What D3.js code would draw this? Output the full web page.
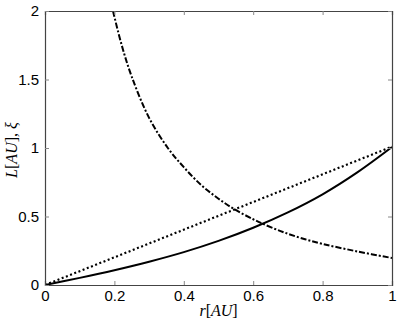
<!DOCTYPE html>
<html lang="en">
<head>
<meta charset="UTF-8">
<title>L and xi vs r</title>
<script src="https://cdn.jsdelivr.net/npm/d3@7"></script>
<style>
    body { margin: 0; background: #fff; }
    .tick text { font-family: "Liberation Sans", Arial, sans-serif; font-size: 15px; fill: #000; }
    .lbl { font-family: "Liberation Serif", "DejaVu Serif", serif; font-size: 16px; }
</style>
</head>
<body>
<svg id="chart" width="399" height="323"></svg>
<script>
// values
let xTicks = [0, 0.2, 0.4, 0.6, 0.8, 1]
let yTicks = [0, 0.5, 1, 1.5, 2]

let solidR = [0, 0.1, 0.2, 0.3, 0.4, 0.5, 0.6, 0.7, 0.8, 0.9, 1]
let solidY = [0, 0.052, 0.108, 0.17, 0.24, 0.322, 0.418, 0.53, 0.662, 0.822, 1.007]

let dottedR = [0, 1]
let dottedY = [0, 1.01]

let dashR = [0.196, 0.22, 0.25, 0.3, 0.354, 0.4, 0.45, 0.5, 0.548, 0.6, 0.625, 0.677, 0.735, 0.8, 0.9, 1]
let dashY = [2.0, 1.76, 1.52, 1.22, 1.0, 0.86, 0.73, 0.63, 0.55, 0.48, 0.45, 0.395, 0.345, 0.30, 0.245, 0.197]

let svg = d3.select("#chart")
let pLeft = 45, pRight = 392, pTop = 11, pBottom = 285

let x = d3.scaleLinear().domain([0, 1]).range([pLeft, pRight])
let y = d3.scaleLinear().domain([0, 2]).range([pBottom, pTop])

svg.append("clipPath").attr("id", "clip")
    .append("rect").attr("x", pLeft).attr("y", pTop)
    .attr("width", pRight - pLeft).attr("height", pBottom - pTop)

function series(rs, ys) {
    return rs.map((r, i) => [r, ys[i]])
}

let smooth = d3.line().x(d => x(d[0])).y(d => y(d[1])).curve(d3.curveCatmullRom.alpha(0.5))

let curves = svg.append("g").attr("clip-path", "url(#clip)")
curves.append("path").datum(series(solidR, solidY))
    .attr("d", smooth)
    .attr("fill", "none").attr("stroke", "#000").attr("stroke-width", 2)
curves.append("path").datum(series(dottedR, dottedY))
    .attr("d", d3.line().x(d => x(d[0])).y(d => y(d[1])))
    .attr("fill", "none").attr("stroke", "#000").attr("stroke-width", 2.2)
    .attr("stroke-dasharray", "2,2.5")
curves.append("path").datum(series(dashR, dashY))
    .attr("d", smooth)
    .attr("fill", "none").attr("stroke", "#000").attr("stroke-width", 2)
    .attr("stroke-dasharray", "6,2,2,2")

// axes, ticks pointing inward
let frame = "#444"
svg.append("g").attr("transform", `translate(0,${pBottom})`)
    .call(d3.axisBottom(x).tickValues(xTicks).tickSize(-4).tickPadding(5).tickFormat(d3.format("")))
svg.append("g").attr("transform", `translate(0,${pTop})`)
    .call(d3.axisTop(x).tickValues(xTicks).tickSize(-4).tickFormat(""))
svg.append("g").attr("transform", `translate(${pLeft},0)`)
    .call(d3.axisLeft(y).tickValues(yTicks).tickSize(-4).tickPadding(6).tickFormat(d3.format("")))
svg.append("g").attr("transform", `translate(${pRight},0)`)
    .call(d3.axisRight(y).tickValues(yTicks).tickSize(-4).tickFormat(""))

svg.selectAll(".domain").attr("stroke", frame).attr("stroke-width", 1.2)
svg.selectAll(".tick line").attr("stroke", "#888")

// axis labels
let xl = svg.append("text").attr("class", "lbl")
    .attr("x", (pLeft + pRight) / 2).attr("y", 316).attr("text-anchor", "middle")
xl.append("tspan").attr("font-style", "italic").text("r")
xl.append("tspan").text("[")
xl.append("tspan").attr("font-style", "italic").text("AU")
xl.append("tspan").text("]")

let yl = svg.append("text").attr("class", "lbl")
    .attr("transform", `translate(17,${(pTop + pBottom) / 2 + 2}) rotate(-90)`)
    .attr("text-anchor", "middle")
yl.append("tspan").attr("font-style", "italic").text("L")
yl.append("tspan").text("[")
yl.append("tspan").attr("font-style", "italic").text("AU")
yl.append("tspan").text("], ")
yl.append("tspan").attr("font-style", "italic").text("ξ")
</script>
</body>
</html>
